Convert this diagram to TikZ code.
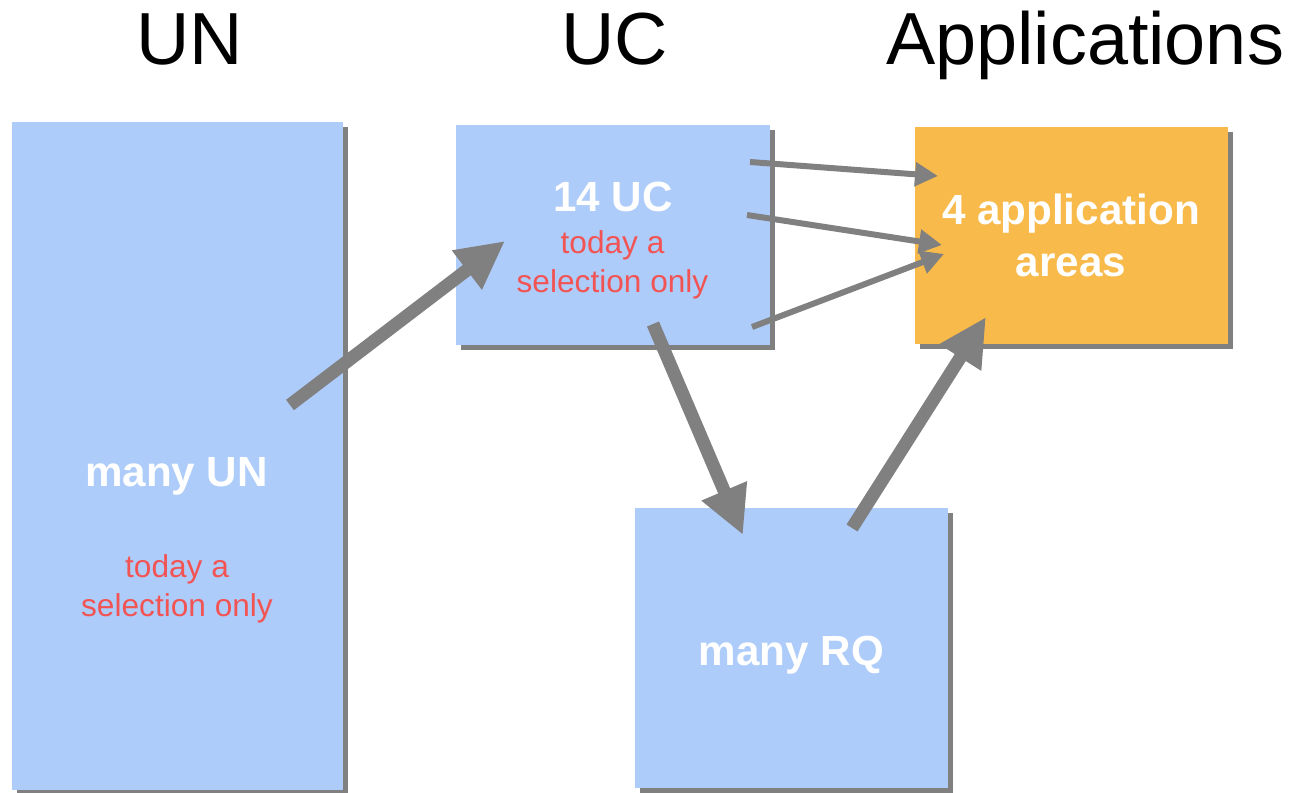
\documentclass[tikz,border=0pt]{standalone}
\usepackage{fontspec}
\setmainfont{Liberation Sans}
\usepackage{xcolor}
\usetikzlibrary{arrows.meta, shadows, calc, positioning}
\definecolor{boxblue}{RGB}{174,204,250}
\definecolor{apporange}{RGB}{248,186,74}
\definecolor{notered}{RGB}{242,84,84}
\definecolor{arrowgray}{RGB}{128,128,128}

\begin{document}
\begin{tikzpicture}

% TikZ styles
\tikzset{
  block/.style={rectangle, fill=boxblue, inner sep=0pt, drop shadow={shadow xshift=0.1cm, shadow yshift=-0.1cm, fill=arrowgray, opacity=1}},
  appblock/.style={block, fill=apporange},
  heading/.style={anchor=base, font=\fontsize{42}{50}\selectfont},
  boxtext/.style={text=white, align=center, font=\fontsize{24}{29.5}\selectfont\bfseries},
  remark/.style={text=notered, align=center, font=\fontsize{18}{22}\selectfont},
  bigarrow/.style={-{Triangle[length=0.96cm, width=0.92cm]}, line width=0.26cm, draw=arrowgray},
  thinarrow/.style={-{Triangle[length=0.46cm, width=0.46cm]}, line width=0.12cm, draw=arrowgray}
}

\useasboundingbox (0,0) rectangle (25.84,15.84);

%==========================
% Column headings
%==========================
\node[heading] (unhead)  at (3.80, 14.54) {UN};
\node[heading] (uchead)  at (12.30, 14.54) {UC};
\node[heading] (apphead) at (21.70, 14.54) {Applications};

%==========================
% Boxes
%==========================
\node[block, minimum width=6.62cm, minimum height=13.36cm] (un)   at (3.55, 6.72) {};
\node[block, minimum width=6.28cm, minimum height=4.40cm]  (uc)   at (12.26, 11.14) {};
\node[appblock, minimum width=6.26cm, minimum height=4.34cm] (apps) at (21.43, 11.13) {};
\node[block, minimum width=6.26cm, minimum height=5.60cm]  (rq)   at (15.83, 2.88) {};

% texts in the boxes
\node[boxtext, anchor=base] (untext) at (3.53, 6.12) {many UN};
\node[remark] (unnote) at (3.54, 4.07) {today a\\selection only};
\node[boxtext, anchor=base] (uctext) at (12.26, 11.60) {14 UC};
\node[remark] (ucnote) at (12.25, 10.55) {today a\\selection only};
\node[boxtext] (apptext) at (21.42, 11.13) {4 application\\areas};
\node[boxtext, anchor=base] (rqtext) at (15.83, 2.54) {many RQ};

%==========================
% Arrow end points
%==========================
\node[coordinate] (unout)   at (5.80, 7.74) {};
\node[coordinate] (ucin)    at (10.10, 11.02) {};
\node[coordinate] (ucdown)  at (13.06, 9.36) {};
\node[coordinate] (rqin)    at (14.86, 5.14) {};
\node[coordinate] (rqout)   at (17.04, 5.28) {};
\node[coordinate] (appin)   at (19.72, 9.50) {};
\node[coordinate] (ucouta)  at (15.00, 12.60) {};
\node[coordinate] (appina)  at (18.76, 12.32) {};
\node[coordinate] (ucoutb)  at (14.94, 11.54) {};
\node[coordinate] (appinb)  at (18.84, 10.94) {};
\node[coordinate] (ucoutc)  at (15.04, 9.30) {};
\node[coordinate] (appinc)  at (18.88, 10.76) {};

% thick arrows
\draw[bigarrow] (unout) -- (ucin);
\draw[bigarrow] (ucdown) -- (rqin);
\draw[bigarrow] (rqout) -- (appin);

% thin arrows UC -> applications
\draw[thinarrow] (ucouta) -- (appina);
\draw[thinarrow] (ucoutb) -- (appinb);
\draw[thinarrow] (ucoutc) -- (appinc);

\end{tikzpicture}
\end{document}
